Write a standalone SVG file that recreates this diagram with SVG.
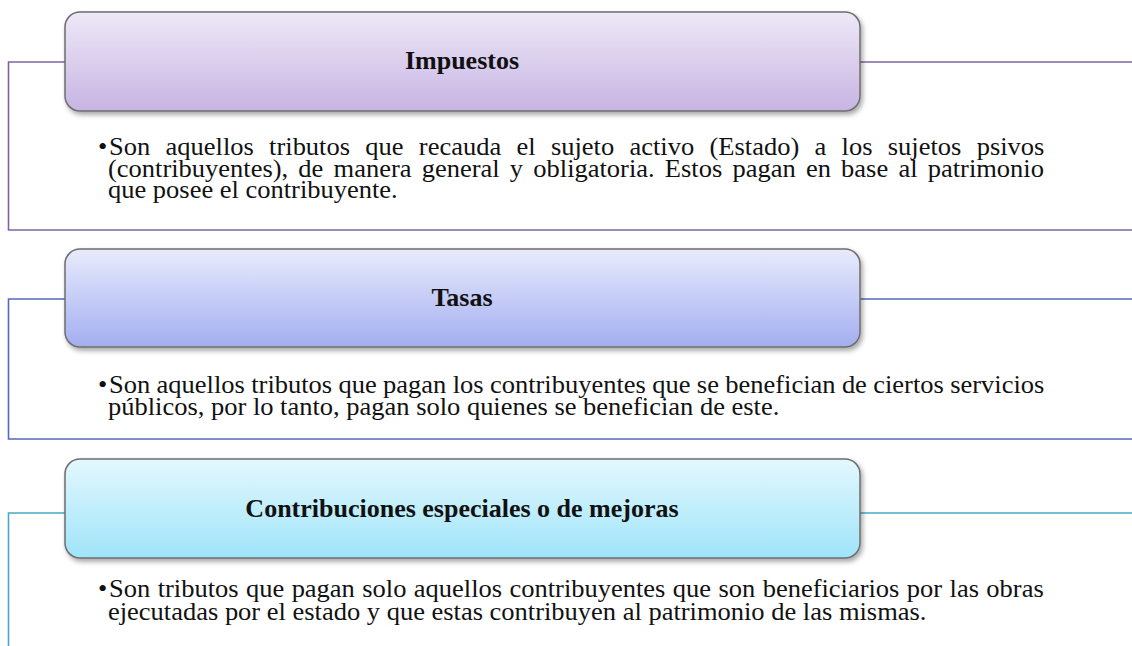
<svg xmlns="http://www.w3.org/2000/svg" width="1132" height="646" viewBox="0 0 1132 646">
<style>
.frame{fill:none;stroke-width:1.6}
.box{stroke:#6e6e6e;stroke-width:1.5}
.title{font-family:"Liberation Serif","Times New Roman",serif;font-weight:bold;font-size:26px;fill:#111;text-anchor:middle}
.body{font-family:"Liberation Serif","Times New Roman",serif;font-size:24.5px;fill:#111}
</style>
<defs>
<linearGradient id="gP" x1="0" y1="0" x2="0" y2="1"><stop offset="0" stop-color="#eee9f7"/><stop offset="1" stop-color="#c7b4e3"/></linearGradient>
<linearGradient id="gB" x1="0" y1="0" x2="0" y2="1"><stop offset="0" stop-color="#e8ebfc"/><stop offset="1" stop-color="#a3aef0"/></linearGradient>
<linearGradient id="gC" x1="0" y1="0" x2="0" y2="1"><stop offset="0" stop-color="#e3f8fe"/><stop offset="1" stop-color="#9fe4f9"/></linearGradient>
<filter id="sh" x="-5%" y="-20%" width="115%" height="150%"><feDropShadow dx="2" dy="3" stdDeviation="2.5" flood-color="#000" flood-opacity="0.35"/></filter>
</defs>
<g id="connectors">
<path class="frame" stroke="#8064a2" d="M65 62H8.5V230H1132M860 62H1132"/>
<path class="frame" stroke="#5568bd" d="M65 299H8.5V439H1132M860 299H1132"/>
<path class="frame" stroke="#4aa8c2" d="M65 513H8.5V646M860 513H1132"/>
</g>
<g id="impuestos">
<rect class="box" x="65" y="12" width="795" height="99" rx="15" fill="url(#gP)" filter="url(#sh)"/>
<text class="title" x="462" y="69">Impuestos</text>
<g transform="scale(1.0816,1)">
<text class="body" x="90.6" y="155">•</text>
<text class="body" x="100.8" y="155" word-spacing="8.04">Son aquellos tributos que recauda el sujeto activo (Estado) a los sujetos psivos</text>
<text class="body" x="99.85" y="177" word-spacing="3.33">(contribuyentes), de manera general y obligatoria. Estos pagan en base al patrimonio</text>
<text class="body" x="99.85" y="198">que posee el contribuyente.</text>
</g>
</g>
<g id="tasas">
<rect class="box" x="65" y="249" width="795" height="98" rx="15" fill="url(#gB)" filter="url(#sh)"/>
<text class="title" x="462" y="306">Tasas</text>
<g transform="scale(1.0816,1)">
<text class="body" x="90.6" y="393">•</text>
<text class="body" x="100.8" y="393" word-spacing="-0.23">Son aquellos tributos que pagan los contribuyentes que se benefician de ciertos servicios</text>
<text class="body" x="99.85" y="415">públicos, por lo tanto, pagan solo quienes se benefician de este.</text>
</g>
</g>
<g id="contribuciones">
<rect class="box" x="65" y="459" width="795" height="99" rx="15" fill="url(#gC)" filter="url(#sh)"/>
<text class="title" x="462" y="517">Contribuciones especiales o de mejoras</text>
<g transform="scale(1.0816,1)">
<text class="body" x="90.6" y="597">•</text>
<text class="body" x="100.8" y="597" word-spacing="0.74">Son tributos que pagan solo aquellos contribuyentes que son beneficiarios por las obras</text>
<text class="body" x="99.85" y="620">ejecutadas por el estado y que estas contribuyen al patrimonio de las mismas.</text>
</g>
</g>
</svg>
